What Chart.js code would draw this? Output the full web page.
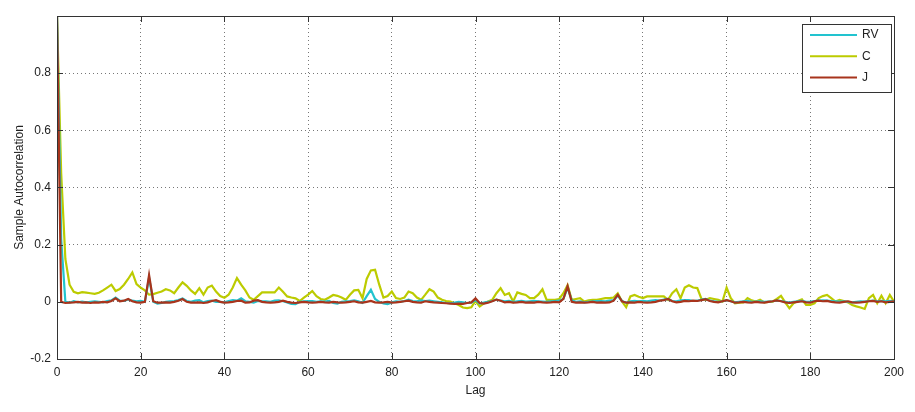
<!DOCTYPE html>
<html>
<head>
<meta charset="utf-8">
<script src="https://cdn.jsdelivr.net/npm/chart.js@4.4.1/dist/chart.umd.min.js"></script>
<style>
  html, body { margin: 0; padding: 0; background: #fff; }
  #wrap { width: 915px; height: 412px; position: relative; }
</style>
</head>
<body>
<div id="wrap"><canvas id="acf"></canvas></div>
<script>
// lag axis 0..200
const lags = Array.from({ length: 201 }, (_, i) => i);

const seriesNames = ['RV', 'C', 'J'];
const seriesColors = ['#22c3cf', '#bccb00', '#a8341c'];

const rv = [
  1.0, 0.22, 0.0, -0.003, 0.002, -0.002, 0.001, -0.002, 0.0, 0.002,
  0.0, -0.002, 0.003, 0.005, 0.015, 0.004, 0.003, 0.008, 0.004, 0.002,
  0.003, 0.0, 0.085, 0.0, -0.006, -0.004, 0.0, 0.002, 0.003, 0.006,
  0.012, 0.003, 0.0, 0.004, 0.006, -0.002, 0.003, 0.004, 0.0, 0.0,
  -0.002, 0.003, 0.006, 0.004, 0.012, 0.002, 0.0, -0.003, 0.003, 0.002,
  0.002, 0.0, 0.004, 0.005, 0.002, -0.002, -0.007, -0.008, 0.0, 0.002,
  0.003, 0.003, 0.0, 0.002, 0.001, 0.003, -0.004, -0.006, 0.0, 0.002,
  0.003, 0.005, 0.002, -0.004, 0.02, 0.042, 0.01, 0.0, -0.006, -0.008,
  -0.002, 0.002, 0.0, 0.003, 0.008, 0.003, 0.002, 0.005, 0.003, 0.004,
  0.002, 0.0, -0.002, -0.004, -0.005, -0.003, 0.0, -0.002, -0.004, -0.003,
  0.006, -0.006, -0.003, 0.0, 0.003, 0.008, 0.004, 0.002, 0.003, 0.0,
  0.002, 0.003, 0.001, 0.002, 0.003, 0.002, 0.001, 0.0, 0.002, 0.003,
  0.004, 0.01, 0.05, 0.005, 0.0, 0.002, -0.002, 0.0, 0.002, 0.003,
  0.003, 0.002, 0.004, 0.006, 0.022, 0.003, -0.003, 0.002, 0.003, 0.002,
  0.003, 0.002, 0.004, 0.006, 0.004, 0.008, 0.01, 0.003, 0.002, 0.005,
  0.006, 0.006, 0.003, 0.004, 0.008, 0.01, 0.004, 0.002, 0.0, 0.002,
  0.006, 0.002, -0.002, 0.0, 0.002, 0.003, 0.0, 0.001, 0.002, 0.0,
  0.001, 0.002, 0.004, 0.003, 0.0, -0.003, 0.0, 0.002, 0.003, 0.0,
  0.001, 0.003, 0.004, 0.005, 0.004, 0.003, 0.002, 0.001, 0.002, 0.0,
  -0.002, 0.0, 0.002, 0.001, 0.003, 0.004, 0.002, 0.003, 0.002, 0.003,
  0.002
];

const c = [
  1.0, 0.45, 0.15, 0.06, 0.035, 0.03, 0.034, 0.032, 0.03, 0.028,
  0.032, 0.04, 0.05, 0.06, 0.038, 0.045, 0.06, 0.08, 0.103, 0.062,
  0.05, 0.04, 0.025, 0.027, 0.032, 0.036, 0.044, 0.04, 0.03, 0.05,
  0.068, 0.056, 0.04, 0.028, 0.048, 0.025, 0.05, 0.057, 0.036, 0.02,
  0.014, 0.025, 0.05, 0.083, 0.06, 0.04, 0.015, 0.007, 0.02, 0.033,
  0.033, 0.033, 0.033, 0.05, 0.035, 0.019, 0.015, 0.012, 0.003, 0.015,
  0.025, 0.038, 0.02, 0.01, 0.007, 0.015, 0.024, 0.021, 0.015, 0.007,
  0.025, 0.04, 0.042, 0.013, 0.08, 0.11, 0.112, 0.06, 0.015, 0.02,
  0.036, 0.013, 0.01, 0.015, 0.036, 0.03, 0.015, 0.007, 0.025, 0.044,
  0.036, 0.015, 0.007, 0.003, 0.001, -0.005, -0.011, -0.02, -0.022, -0.019,
  0.003, -0.016, -0.005, 0.001, 0.007, 0.03, 0.048, 0.024, 0.03, 0.001,
  0.033, 0.028, 0.024, 0.013, 0.013, 0.025, 0.044, 0.007, 0.007, 0.007,
  0.01, 0.03, 0.058, 0.007, 0.01, 0.013, 0.001, 0.005, 0.007, 0.007,
  0.01, 0.013, 0.013, 0.015, 0.03, 0.001, -0.019, 0.019, 0.024, 0.018,
  0.013, 0.019, 0.019, 0.019, 0.019, 0.019, 0.007, 0.03, 0.044, 0.013,
  0.05, 0.058, 0.05, 0.048, 0.01, 0.007, 0.013, 0.01, 0.007, 0.001,
  0.05, 0.013, -0.005, -0.003, -0.002, 0.013, 0.005, 0.001, 0.007, -0.002,
  0.0, 0.001, 0.01, 0.021, -0.002, -0.022, -0.005, 0.003, 0.009, -0.011,
  -0.011, -0.005, 0.013, 0.02, 0.024, 0.013, 0.001, 0.007, 0.003, -0.002,
  -0.011, -0.016, -0.02, -0.025, 0.013, 0.024, -0.005, 0.021, -0.005, 0.024,
  0.001
];

const j = [
  1.0, 0.0, -0.004, -0.003, -0.002, 0.0, -0.003, -0.002, -0.004, -0.002,
  -0.003, 0.0, -0.002, 0.003, 0.012, 0.002, 0.004, 0.01, 0.002, -0.002,
  -0.003, 0.0, 0.094, 0.002, -0.003, -0.003, -0.002, -0.003, 0.0, 0.004,
  0.01, 0.0, -0.003, -0.003, -0.002, -0.004, -0.002, 0.003, 0.006, 0.0,
  -0.003, -0.002, 0.0, 0.003, 0.004, -0.003, -0.002, 0.004, 0.006, 0.0,
  -0.002, -0.003, -0.002, 0.0, 0.004, 0.0, -0.003, -0.004, -0.002, 0.0,
  -0.002, -0.003, -0.002, 0.0, -0.002, -0.003, 0.0, -0.002, -0.003, -0.002,
  0.0, 0.002, -0.002, -0.003, 0.0, 0.003, -0.002, -0.003, -0.002, 0.0,
  -0.003, -0.002, 0.0, 0.002, 0.004, 0.0, -0.002, -0.003, 0.002, 0.0,
  -0.002, -0.003, -0.004, -0.005, -0.006, -0.007, -0.006, -0.007, -0.004, -0.002,
  0.012, -0.004, -0.006, -0.003, 0.002, 0.008, 0.004, -0.002, 0.0, -0.003,
  -0.002, 0.0, -0.003, -0.002, -0.003, 0.0, -0.002, -0.003, -0.002, 0.0,
  -0.002, 0.01, 0.055, 0.0, -0.003, -0.002, -0.003, -0.002, 0.0, -0.003,
  -0.002, -0.003, -0.002, 0.004, 0.025, 0.002, -0.003, -0.002, -0.003, 0.0,
  -0.002, -0.003, -0.002, 0.0, 0.004, 0.006, 0.01, 0.002, -0.002, 0.0,
  0.003, 0.002, 0.004, 0.003, 0.006, 0.009, 0.003, 0.0, -0.002, 0.002,
  0.006, 0.002, -0.003, -0.002, 0.0, -0.002, -0.003, 0.0, -0.002, -0.003,
  0.0, 0.002, 0.005, 0.002, -0.002, -0.004, -0.002, 0.0, 0.002, -0.002,
  -0.003, 0.002, 0.004, 0.002, 0.003, 0.0, -0.002, -0.003, 0.0, 0.002,
  -0.002, -0.003, -0.002, 0.0, 0.002, 0.003, 0.0, 0.002, -0.002, 0.0,
  0.002
];

const xTicks = [0, 20, 40, 60, 80, 100, 120, 140, 160, 180, 200];
const yTicks = [-0.2, 0, 0.2, 0.4, 0.6, 0.8, 1.0];

const FONT = '"Liberation Sans", Arial, sans-serif';

function points(vals) {
  return lags.map((l, i) => ({ x: l, y: vals[i] }));
}

// matlab-like box + inward tick marks + legend inside the axes
const frame = {
  id: 'frame',
  afterDatasetsDraw(chart) {
    const { ctx, chartArea: a, scales } = chart;
    ctx.save();
    ctx.strokeStyle = '#333';
    ctx.lineWidth = 1;
    ctx.beginPath();
    xTicks.forEach(t => {
      const px = Math.round(scales.x.getPixelForValue(t)) + 0.5;
      ctx.moveTo(px, a.bottom); ctx.lineTo(px, a.bottom - 6);
      ctx.moveTo(px, a.top); ctx.lineTo(px, a.top + 6);
    });
    yTicks.forEach(t => {
      const py = Math.round(scales.y.getPixelForValue(t)) + 0.5;
      ctx.moveTo(a.left, py); ctx.lineTo(a.left + 6, py);
      ctx.moveTo(a.right, py); ctx.lineTo(a.right - 6, py);
    });
    ctx.stroke();
    ctx.strokeRect(Math.round(a.left) + 0.5, Math.round(a.top) + 0.5,
      Math.round(a.right - a.left), Math.round(a.bottom - a.top));

    const bx = a.right - 92, by = a.top + 8, bw = 89, bh = 68;
    ctx.fillStyle = '#fff';
    ctx.fillRect(bx, by, bw, bh);
    ctx.strokeStyle = '#333';
    ctx.strokeRect(bx + 0.5, by + 0.5, bw, bh);
    ctx.font = '12px ' + FONT;
    ctx.textBaseline = 'middle';
    chart.data.datasets.forEach((ds, i) => {
      const y = by + 11 + i * 21.3;
      ctx.strokeStyle = ds.borderColor;
      ctx.lineWidth = 2;
      ctx.beginPath();
      ctx.moveTo(bx + 8, y); ctx.lineTo(bx + 55, y);
      ctx.stroke();
      ctx.fillStyle = '#222';
      ctx.fillText(ds.label, bx + 60, y);
    });
    ctx.restore();
  }
};

new Chart(document.getElementById('acf'), {
  type: 'line',
  data: {
    datasets: [
      { label: seriesNames[0], data: points(rv), borderColor: seriesColors[0], order: 1 },
      { label: seriesNames[1], data: points(c), borderColor: seriesColors[1], order: 2 },
      { label: seriesNames[2], data: points(j), borderColor: seriesColors[2], order: 0 }
    ].map(d => Object.assign(d, { borderWidth: 2.2, pointRadius: 0, tension: 0, fill: false }))
  },
  options: {
    responsive: true,
    maintainAspectRatio: false,
    animation: false,
    layout: { padding: { top: 16, right: 21, left: 8, bottom: 14 } },
    plugins: { legend: { display: false }, tooltip: { enabled: false } },
    scales: {
      x: {
        type: 'linear',
        min: 0, max: 200,
        afterBuildTicks: s => { s.ticks = xTicks.map(v => ({ value: v })); },
        afterFit: s => { s.height = 39; },
        grid: { color: '#777', lineWidth: 1, drawTicks: false },
        border: { display: false, dash: [1, 3] },
        ticks: { color: '#222', font: { family: FONT, size: 12 }, padding: 6, maxRotation: 0 },
        title: { display: true, text: 'Lag', color: '#222', font: { family: FONT, size: 12 }, padding: { top: 0, bottom: 0 } }
      },
      y: {
        min: -0.2, max: 1.0,
        afterBuildTicks: s => { s.ticks = yTicks.map(v => ({ value: v })); },
        afterFit: s => { s.width = 49; },
        grid: { color: '#777', lineWidth: 1, drawTicks: false },
        border: { display: false, dash: [1, 3] },
        ticks: {
          color: '#222', font: { family: FONT, size: 12 }, padding: 6,
          callback: v => (Math.abs(v - 1) < 1e-9 ? '' : String(Math.round(v * 10) / 10))
        },
        title: { display: true, text: 'Sample Autocorrelation', color: '#222', font: { family: FONT, size: 12 }, padding: { bottom: 2 } }
      }
    }
  },
  plugins: [frame]
});
</script>
</body>
</html>
